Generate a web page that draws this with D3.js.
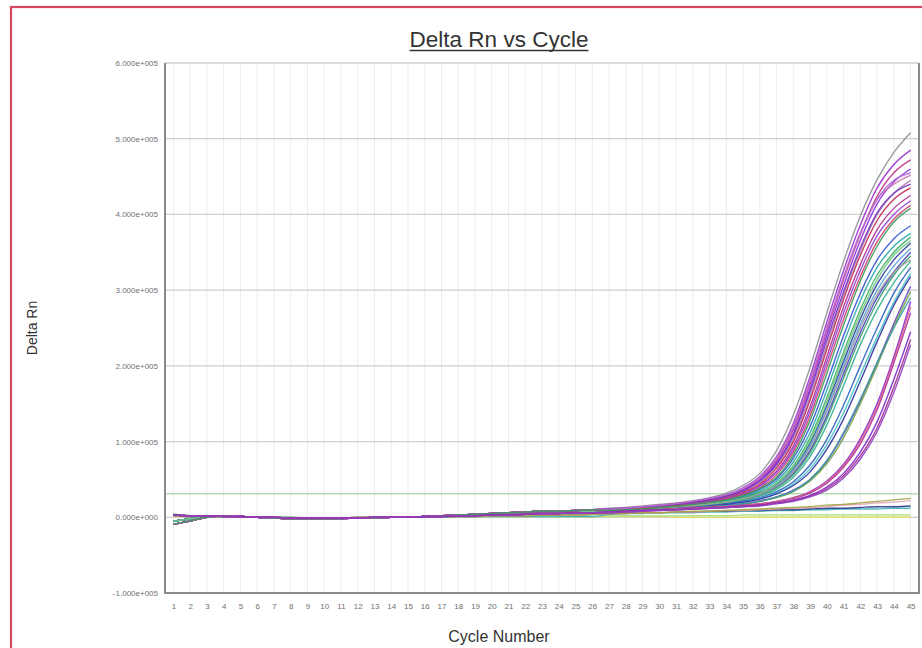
<!DOCTYPE html>
<html>
<head>
<meta charset="utf-8">
<script src="https://cdn.jsdelivr.net/npm/d3@7"></script>
<style>
  html, body { margin: 0; padding: 0; background: #fff; }
  svg { display: block; }
  text { font-family: "Liberation Sans", Arial, sans-serif; }
</style>
</head>
<body>
<svg id="chart" width="922" height="648"></svg>
<script>
// Amplification plot. All Delta Rn values are stored in thousands.
const UNIT = 1000;
const cycles = d3.range(1, 46);
const yTicks = [-100, 0, 100, 200, 300, 400, 500, 600];
const threshold = 31;

// Baseline segments, cycles 1–26
const baseA = [-9, -5, 0, 2, 1, 0, -1, -2, -2, -2, -2, -1, -1, 0, 0, 1, 2, 3, 4, 5, 6, 7, 8, 8, 9, 10];
const baseB = [-5, -2, 1, 2, 1, 0, -1, -1, -2, -2, -1, -1, -1, 0, 0, 1, 1, 2, 3, 4, 4, 5, 6, 7, 7, 8];
const baseC = [3, 2, 2, 1, 1, 0, 0, -1, -1, -1, -1, -1, 0, 0, 0, 1, 1, 2, 2, 3, 3, 4, 5, 5, 6, 6];
const baseD = [2, 1, 1, 1, 0, 0, 0, -1, -1, -1, -1, 0, 0, 0, 0, 0, 1, 1, 1, 2, 2, 2, 3, 3, 3, 4];
const baseE = [4, 2, 1, 1, 0, 0, 0, 0, -1, -1, -1, -1, 0, 0, 0, 0, 0, 1, 1, 1, 1, 1, 1, 1, 1, 1];

// Late segments, cycles 27–45
// earliest wells
const tailG0  = [12, 13, 15, 17, 19, 22, 26, 32, 42, 58, 88, 135, 198, 270, 338, 398, 446, 482, 508];
const tailA1  = [11, 12, 14, 16, 18, 21, 25, 30, 39, 54, 80, 124, 186, 258, 326, 386, 435, 466, 485];
const tailA2  = [11, 12, 13, 15, 18, 20, 24, 29, 37, 51, 75, 116, 176, 246, 314, 374, 424, 455, 472];
const tailA3  = [10, 11, 13, 15, 17, 20, 23, 28, 36, 49, 72, 111, 170, 240, 306, 366, 414, 443, 460];
const tailA4  = [11, 12, 14, 16, 18, 21, 24, 29, 38, 52, 78, 120, 180, 250, 316, 374, 420, 440, 452];
const tailA5  = [10, 11, 12, 14, 16, 19, 22, 27, 34, 46, 68, 104, 160, 228, 294, 352, 400, 428, 445];
const tailA6  = [10, 11, 13, 14, 16, 19, 22, 26, 33, 44, 65, 100, 155, 222, 288, 346, 392, 420, 435];
const tailA7  = [11, 12, 13, 15, 17, 20, 23, 28, 35, 48, 70, 108, 166, 234, 298, 356, 402, 428, 440];
const tailA8  = [10, 11, 12, 14, 16, 18, 21, 25, 31, 42, 61, 94, 146, 212, 278, 334, 380, 408, 425];
const tailA9  = [10, 11, 12, 14, 15, 18, 21, 25, 31, 41, 59, 90, 140, 205, 270, 326, 372, 400, 418];
const tailA10 = [9, 10, 12, 13, 15, 17, 20, 24, 30, 39, 56, 86, 134, 198, 262, 318, 364, 394, 412];
const tailA11 = [11, 12, 14, 16, 18, 21, 25, 30, 38, 53, 78, 120, 180, 250, 318, 376, 420, 445, 455];
const tailA12 = [9, 10, 11, 13, 15, 17, 20, 23, 29, 38, 53, 82, 128, 190, 254, 312, 358, 390, 408];
// middle wells
const tailB1  = [9, 10, 11, 13, 14, 17, 19, 23, 28, 37, 51, 78, 120, 178, 240, 296, 340, 368, 385];
const tailB2  = [9, 10, 11, 12, 14, 16, 19, 22, 27, 35, 48, 73, 112, 168, 230, 286, 330, 358, 375];
const tailB3  = [9, 10, 11, 12, 14, 16, 18, 21, 26, 33, 45, 68, 105, 158, 218, 274, 320, 350, 370];
const tailB4  = [9, 10, 11, 12, 13, 15, 18, 21, 25, 32, 43, 64, 98, 148, 206, 262, 308, 340, 362];
const tailB5  = [8, 9, 10, 12, 13, 15, 17, 20, 24, 31, 42, 62, 95, 143, 200, 255, 300, 332, 355];
const tailB6  = [8, 9, 10, 11, 13, 15, 17, 20, 24, 30, 40, 58, 88, 134, 190, 244, 290, 324, 350];
const tailB7  = [8, 9, 10, 11, 13, 14, 17, 19, 23, 29, 39, 56, 85, 130, 184, 238, 284, 320, 345];
const tailB8  = [8, 9, 10, 11, 12, 14, 16, 19, 22, 28, 37, 53, 80, 122, 174, 228, 274, 310, 338];
const tailB9  = [8, 9, 10, 11, 12, 14, 16, 18, 21, 26, 34, 47, 69, 103, 148, 200, 250, 296, 330];
const tailB10 = [8, 9, 10, 11, 12, 13, 15, 17, 20, 25, 32, 44, 64, 96, 138, 188, 238, 284, 322];
const tailB11 = [8, 9, 10, 11, 12, 13, 15, 17, 20, 24, 31, 42, 60, 90, 130, 180, 232, 280, 318];
const tailB12 = [8, 9, 10, 11, 13, 15, 17, 20, 24, 30, 41, 60, 92, 140, 196, 250, 294, 324, 340];
const tailB13 = [8, 9, 10, 11, 12, 13, 14, 16, 18, 22, 27, 36, 50, 74, 110, 154, 204, 256, 305];
const tailB14 = [8, 9, 9, 10, 11, 12, 14, 15, 17, 21, 26, 34, 48, 71, 105, 150, 200, 252, 298];
const tailB15 = [7, 8, 9, 10, 11, 12, 14, 15, 18, 21, 27, 35, 50, 75, 112, 156, 204, 250, 290];
const tailB16 = [9, 10, 11, 12, 14, 16, 18, 21, 25, 32, 44, 66, 101, 152, 212, 268, 314, 346, 365];
// latest wells
const tailC1  = [7, 8, 9, 10, 11, 12, 13, 14, 16, 18, 21, 26, 34, 48, 70, 104, 150, 212, 285];
const tailC2  = [7, 8, 9, 10, 11, 12, 13, 14, 15, 17, 20, 25, 32, 45, 66, 97, 142, 204, 270];
const tailC3  = [7, 8, 9, 10, 11, 12, 13, 14, 16, 18, 21, 26, 33, 47, 68, 101, 146, 208, 278];
const tailC4  = [7, 8, 9, 10, 10, 11, 12, 13, 15, 16, 19, 23, 29, 40, 58, 86, 126, 182, 245];
const tailC5  = [6, 7, 8, 9, 10, 11, 12, 13, 14, 16, 18, 22, 28, 38, 55, 81, 118, 172, 235];
const tailC6  = [6, 7, 8, 9, 10, 11, 12, 13, 14, 15, 18, 21, 27, 36, 52, 77, 113, 165, 228];
// wells without amplification
const tailF1  = [5, 5, 6, 6, 7, 8, 8, 9, 10, 11, 12, 13, 14, 16, 17, 19, 21, 23, 25];
const tailF2  = [5, 5, 6, 6, 7, 7, 8, 9, 9, 10, 11, 12, 13, 14, 16, 17, 19, 20, 22];
const tailF3  = [5, 5, 6, 6, 7, 7, 8, 8, 9, 9, 10, 10, 11, 12, 12, 13, 14, 14, 15];
const tailF4  = [4, 5, 5, 6, 6, 6, 7, 7, 8, 8, 9, 9, 10, 10, 11, 11, 11, 12, 12];
const tailF5  = [1, 1, 1, 1, 0, 0, 0, 0, 0, 0, 0, 0, 0, 0, 0, 0, 0, 0, 0];
const tailF6  = [2, 2, 2, 2, 2, 2, 2, 2, 3, 3, 3, 3, 3, 3, 3, 3, 3, 3, 3];

const wellBases = [
  baseE, baseE, baseE, baseD, baseD, baseD,
  baseB, baseB, baseB, baseB, baseB, baseB, baseB, baseB,
  baseB, baseB, baseB, baseB, baseB, baseB, baseB, baseB,
  baseA, baseA, baseA, baseA, baseA, baseA, baseA, baseA, baseA, baseA, baseA, baseA, baseA,
  baseC, baseC, baseC, baseC, baseC, baseC
];
const wellTails = [
  tailF5, tailF6, tailF4, tailF3, tailF2, tailF1,
  tailB1, tailB2, tailB3, tailB4, tailB5, tailB6, tailB7, tailB8,
  tailB9, tailB10, tailB11, tailB12, tailB13, tailB14, tailB15, tailB16,
  tailG0, tailA1, tailA2, tailA3, tailA4, tailA5, tailA6, tailA7, tailA8, tailA9, tailA10, tailA11, tailA12,
  tailC1, tailC2, tailC3, tailC4, tailC5, tailC6
];
const wellColors = [
  "#e2dc5a", "#a8e08a", "#3fb2b4", "#2b3a8c", "#e3a3b8", "#a3a545",
  "#3452d0", "#2aa8a8", "#3fae5e", "#283c9c", "#5aa2da", "#4a40c8", "#3c9c6c", "#30b090",
  "#2c60c0", "#40c0c8", "#30309e", "#9a9a9a", "#6a44c4", "#72a246", "#3a9aa0", "#72c884",
  "#8e8e96", "#9b30d0", "#c0308a", "#8a2be2", "#d070b0", "#a684b6", "#c02850", "#7b2fbf",
  "#b03090", "#9040d8", "#d04070", "#b070d0", "#3a9a5a",
  "#8a2ad8", "#b02a9a", "#d06088", "#7a28c8", "#a02890", "#9040c0"
];

const svg = d3.select("#chart");
const W = 922, H = 648;
const plot = { left: 165, right: 919, top: 63, bottom: 593 };

svg.append("rect").attr("width", W).attr("height", H).attr("fill", "#fff");

// outer frame of the panel
svg.append("rect")
  .attr("x", 11).attr("y", 7)
  .attr("width", W + 20).attr("height", H + 20)
  .attr("fill", "none")
  .attr("stroke", "#d5475f")
  .attr("stroke-width", 2.2);

const x = d3.scaleLinear().domain([0.5, 45.5]).range([plot.left, plot.right]);
const y = d3.scaleLinear().domain([-100, 600]).range([plot.bottom, plot.top]);

// gridlines
const grid = svg.append("g");
grid.selectAll("line.v").data(cycles).join("line")
  .attr("class", "v")
  .attr("x1", d => x(d)).attr("x2", d => x(d))
  .attr("y1", plot.top).attr("y2", plot.bottom)
  .attr("stroke", "#ececec").attr("stroke-width", 1);
grid.selectAll("line.h").data(yTicks).join("line")
  .attr("class", "h")
  .attr("x1", plot.left).attr("x2", plot.right)
  .attr("y1", d => y(d)).attr("y2", d => y(d))
  .attr("stroke", "#cfcfcf").attr("stroke-width", 1.3);

// threshold
svg.append("line")
  .attr("x1", plot.left).attr("x2", plot.right)
  .attr("y1", y(threshold)).attr("y2", y(threshold))
  .attr("stroke", "#b4dcb0").attr("stroke-width", 1.4);

// amplification curves
const line = d3.line()
  .x((d, i) => x(cycles[i]))
  .y(d => y(d))
  .curve(d3.curveMonotoneX);

const wells = wellTails.map((t, i) => wellBases[i].concat(t));
svg.append("g")
  .selectAll("path").data(wells).join("path")
  .attr("d", d => line(d))
  .attr("fill", "none")
  .attr("stroke", (d, i) => wellColors[i])
  .attr("stroke-width", 1.4)
  .attr("stroke-opacity", 0.9);

// plot border
svg.append("path")
  .attr("d", `M${plot.left},${plot.top}V${plot.bottom}H${plot.right}V${plot.top}`)
  .attr("fill", "none")
  .attr("stroke", "#8a8a8a")
  .attr("stroke-width", 2);

// axes
const fmtExp = v => {
  const s = (v * UNIT).toExponential(3);
  const parts = s.split("e");
  return parts[0] + "e" + parts[1][0] + parts[1].slice(1).padStart(3, "0");
};
const yAxis = svg.append("g")
  .attr("transform", `translate(${plot.left},0)`)
  .call(d3.axisLeft(y).tickValues(yTicks).tickFormat(fmtExp).tickSize(0).tickPadding(7));
const xAxis = svg.append("g")
  .attr("transform", `translate(0,${plot.bottom})`)
  .call(d3.axisBottom(x).tickValues(cycles).tickFormat(d3.format("d")).tickSize(0).tickPadding(10));
[yAxis, xAxis].forEach(g => {
  g.select(".domain").remove();
  g.selectAll("text")
    .attr("fill", "#707070")
    .style("font-size", "8px")
    .style("font-family", "'Liberation Sans', Arial, sans-serif");
});

// title
const title = svg.append("text")
  .attr("x", 499).attr("y", 47)
  .attr("text-anchor", "middle")
  .attr("fill", "#333")
  .style("font-size", "22.5px")
  .text("Delta Rn vs Cycle");
const tw = title.node().getComputedTextLength();
svg.append("line")
  .attr("x1", 499 - tw / 2).attr("x2", 499 + tw / 2)
  .attr("y1", 50.5).attr("y2", 50.5)
  .attr("stroke", "#333").attr("stroke-width", 1.6);

// axis titles
svg.append("text")
  .attr("transform", "translate(37,328) rotate(-90)")
  .attr("text-anchor", "middle")
  .attr("fill", "#333")
  .style("font-size", "14px")
  .text("Delta Rn");
svg.append("text")
  .attr("x", 499).attr("y", 642)
  .attr("text-anchor", "middle")
  .attr("fill", "#333")
  .style("font-size", "16px")
  .text("Cycle Number");
</script>
</body>
</html>
